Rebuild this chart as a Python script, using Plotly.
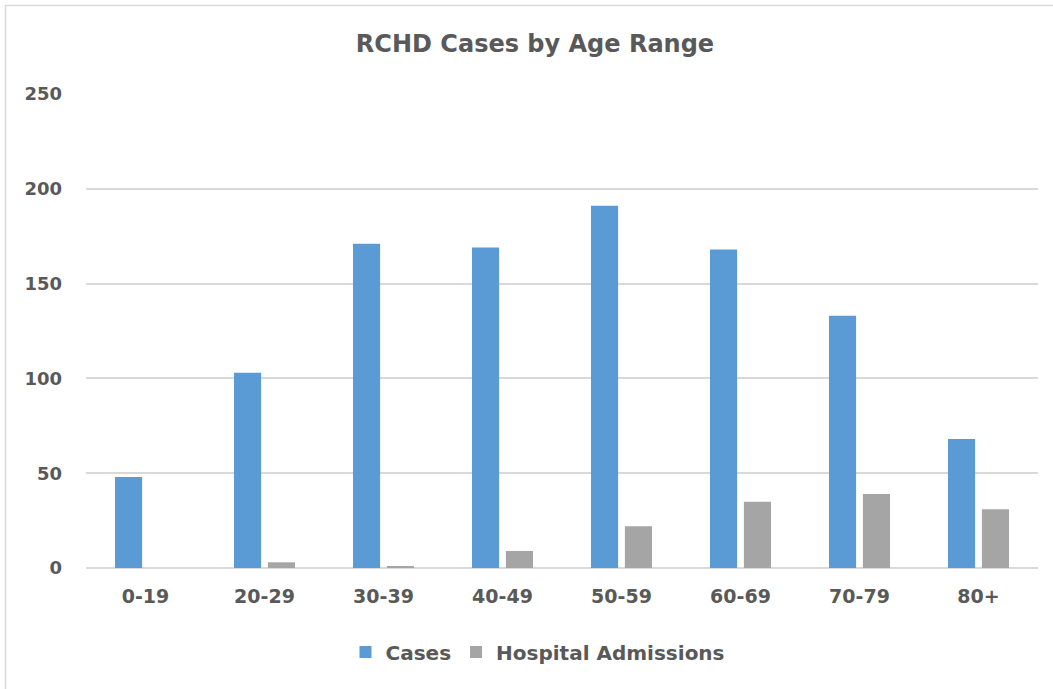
import plotly.graph_objects as go

categories = ["0-19", "20-29", "30-39", "40-49", "50-59", "60-69", "70-79", "80+"]
cases = [48, 103, 171, 169, 191, 168, 133, 68]
hospital = [0, 3, 1, 9, 22, 35, 39, 31]
y_ticks = [0, 50, 100, 150, 200, 250]

FONT = "'DejaVu Sans', sans-serif"
TXT = "#595959"

fig = go.Figure()
fig.add_trace(go.Bar(x=categories, y=cases, name="Cases", marker_color="#5B9BD5",
                     marker_line_width=0))
fig.add_trace(go.Bar(x=categories, y=hospital, name="Hospital Admissions", marker_color="#A5A5A5",
                     marker_line_width=0))

W, H = 1053, 689
ml, mr, mt, mb = 86, 15, 94, 121
pw, ph = W - ml - mr, H - mt - mb

def px_x(x):
    return (x - ml) / pw

def px_y(y):
    return (H - mb - y) / ph

fig.update_layout(
    width=W, height=H,
    margin=dict(l=ml, r=mr, t=mt, b=mb),
    paper_bgcolor="white", plot_bgcolor="white",
    barmode="group", bargap=0.43, bargroupgap=0.2,
    title=dict(text="<b>RCHD Cases by Age Range</b>", x=px_x(535), xanchor="center",
               xref="paper", y=1 - 44 / H, yanchor="middle",
               font=dict(family=FONT, size=24, color=TXT)),
    font=dict(family=FONT, color=TXT),
    xaxis=dict(showline=False, ticks="", showgrid=False, ticklabelstandoff=15,
               tickfont=dict(family=FONT, size=19, color=TXT, weight="bold")),
    yaxis=dict(range=[0, 250], tickvals=y_ticks, showgrid=True, gridcolor="#D9D9D9",
               gridwidth=1.5, zeroline=True, zerolinecolor="#D9D9D9", zerolinewidth=1.5,
               ticks="", ticklabelstandoff=23,
               tickfont=dict(family=FONT, size=18, color=TXT, weight="bold")),
    legend=dict(orientation="h", x=px_x(538), xanchor="center", y=px_y(652), yanchor="middle",
                font=dict(family=FONT, size=20, color=TXT, weight="bold"),
                itemwidth=30, traceorder="normal"),
    shapes=[dict(type="rect", xref="paper", yref="paper",
                 x0=px_x(5.5), x1=px_x(1070), y0=px_y(700), y1=px_y(5.5),
                 line=dict(color="#D9D9D9", width=1.5), fillcolor="rgba(0,0,0,0)", layer="below")],
)

fig.write_html("out.html", config={"displayModeBar": False},
               post_script="document.body.style.margin='0';")
